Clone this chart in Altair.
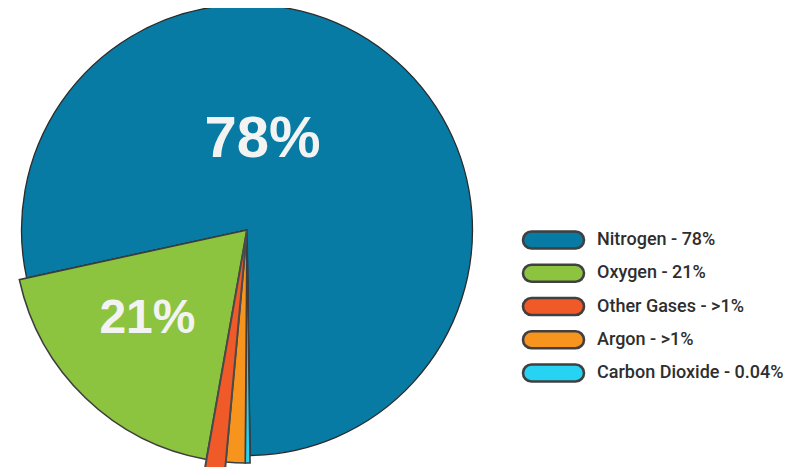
import math
import altair as alt
import pandas as pd

# ---- data ----
slice_gases = ["Nitrogen", "Carbon Dioxide", "Argon", "Other Gases", "Oxygen"]   # clockwise order
slice_values = [78.2, 0.33, 1.33, 1.33, 18.8]                                   # % of circle
slice_text = ["78%", "", "", "", "21%"]

legend_gases = ["Nitrogen", "Oxygen", "Other Gases", "Argon", "Carbon Dioxide"]
legend_labels = ["Nitrogen - 78%", "Oxygen - 21%", "Other Gases - >1%",
                 "Argon - >1%", "Carbon Dioxide - 0.04%"]
gas_colors = ["#077ba3", "#8cc43f", "#f05a28", "#f7941d", "#27d3f2"]

pie = pd.DataFrame({
    "gas": slice_gases,
    "value": slice_values,
    "idx": list(range(len(slice_gases))),
    "label": slice_text,
})
leg = pd.DataFrame({"gas": legend_gases, "label": legend_labels})

start = math.radians(257.7)
CX, CY = 239, 222

color = alt.Color("gas:N", scale=alt.Scale(domain=legend_gases, range=gas_colors), legend=None)
theta = alt.Theta("value:Q", stack=True,
                  scale=alt.Scale(range=[start, start + 2 * math.pi]))
order = alt.Order("idx:Q")

base = alt.Chart(pie).encode(theta=theta, order=order, color=color,
                             x=alt.value(CX), y=alt.value(CY))

def only(names):
    return alt.condition(alt.FieldOneOfPredicate(field="gas", oneOf=names),
                         alt.value(1), alt.value(0))

arc_a = base.mark_arc(outerRadius=225.5, stroke="#2b2b2b", strokeWidth=1.3)
arc_b = base.mark_arc(outerRadius=233, stroke="#3d3d3d", strokeWidth=1.6).encode(
    opacity=only(["Oxygen", "Argon", "Carbon Dioxide"]))
arc_c = base.mark_arc(outerRadius=243, stroke="#4a4a4a", strokeWidth=2).encode(
    opacity=only(["Other Gases"]))

txt_n = base.mark_text(radius=100, dx=-46.7, dy=-11.7, font="Liberation Sans",
                       fontWeight="bold", fontSize=58,
                       baseline="middle", align="center").encode(
    text="label:N", opacity=only(["Nitrogen"]), color=alt.value("#f3f3f3"))
txt_o = base.mark_text(radius=133, dx=-7.4, dy=-7.4, font="Liberation Sans",
                       fontWeight="bold", fontSize=48,
                       baseline="middle", align="center").encode(
    text="label:N", opacity=only(["Oxygen"]), color=alt.value("#f3f3f3"))

pill = ("M-0.7213,-0.2787L0.7213,-0.2787A0.2787,0.2787,0,0,1,0.7213,0.2787"
        "L-0.7213,0.2787A0.2787,0.2787,0,0,1,-0.7213,-0.2787Z")

ly = alt.Y("gas:N", sort=legend_gases, axis=None,
           scale=alt.Scale(type="point", domain=legend_gases, range=[232, 365], padding=0))

leg_sym = alt.Chart(leg).mark_point(shape=pill, size=61 * 61, filled=True, opacity=1,
                                    stroke="#404040", strokeWidth=2.6).encode(
    x=alt.value(545.5), y=ly,
    fill=alt.Fill("gas:N", scale=alt.Scale(domain=legend_gases, range=gas_colors), legend=None))

leg_txt = alt.Chart(leg).mark_text(align="left", baseline="middle", font="Roboto",
                                   fontWeight=500, fontSize=18, color="#2e2e2e").encode(
    x=alt.value(589), y=ly, text="label:N")

chart = alt.layer(arc_a, arc_b, arc_c, txt_n, txt_o, leg_sym, leg_txt).properties(
    width=789, height=459, padding=0, autosize="none", background="#ffffff"
).configure_view(stroke=None)

chart.save("out.html", embed_options={"renderer": "svg", "actions": False})
